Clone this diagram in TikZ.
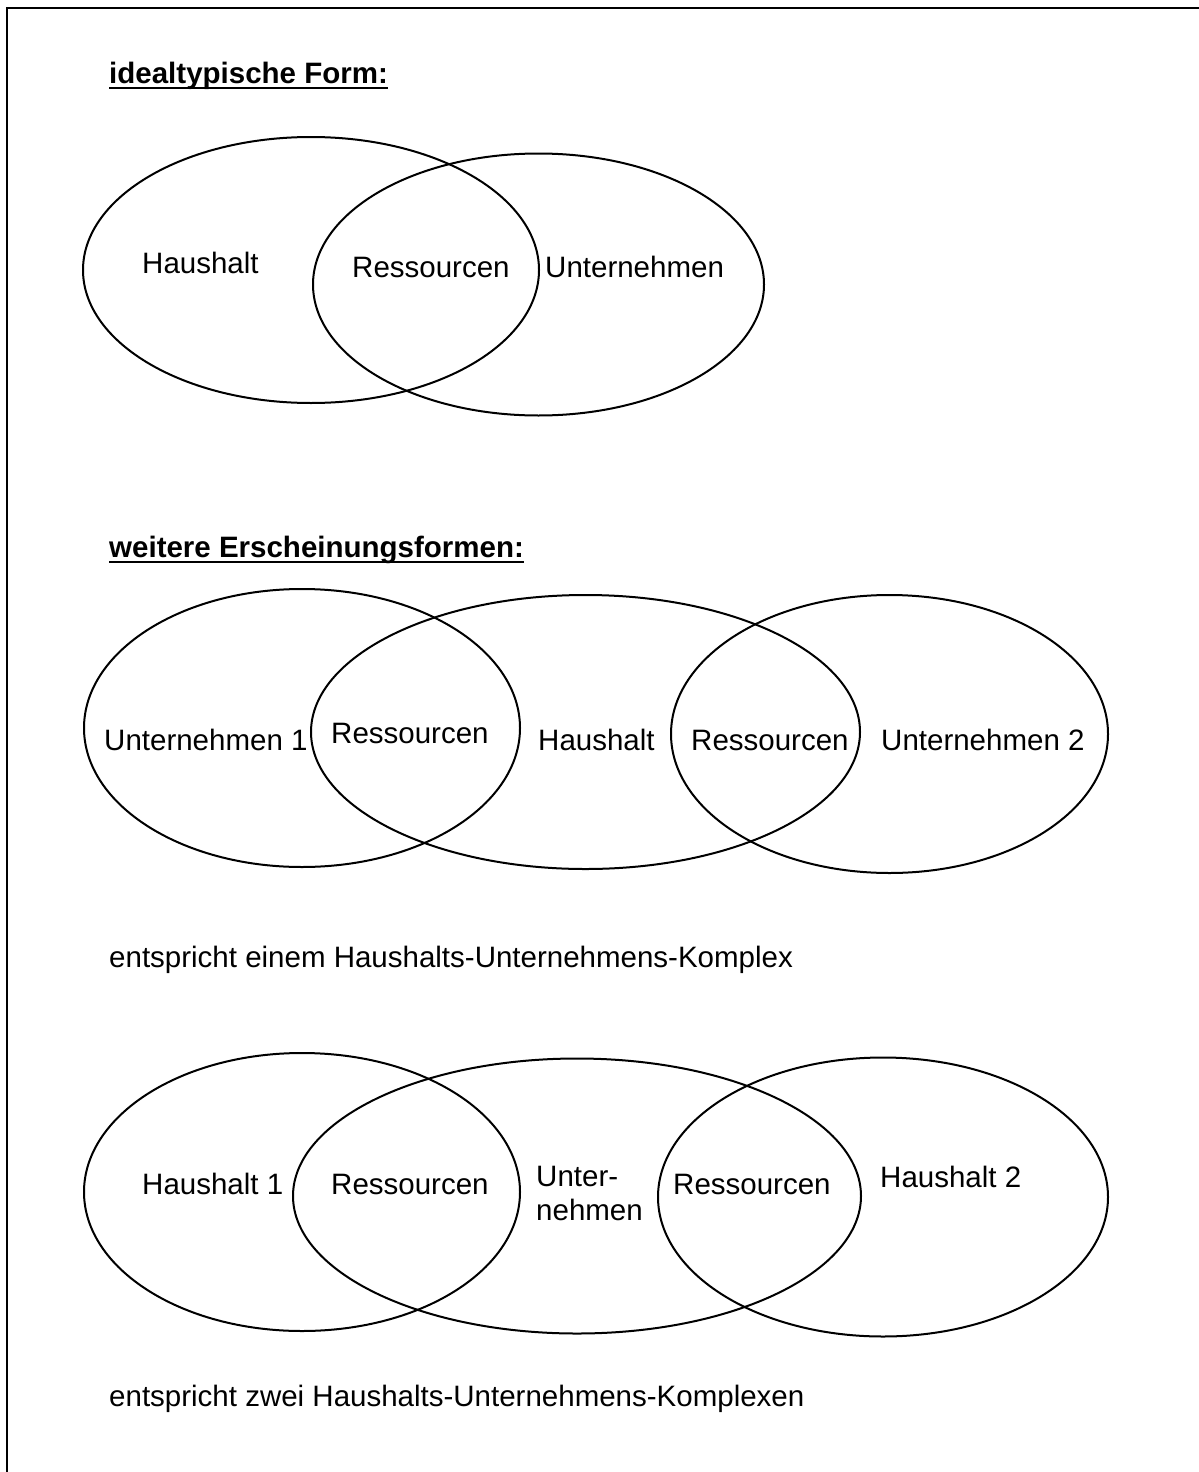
\documentclass[tikz,border=0pt]{standalone}
\usepackage{fontspec}
\setmainfont{Liberation Sans}
\begin{document}
\begin{tikzpicture}[x=1pt,y=-1pt,
  venn/.style={draw=black,line width=2pt},
  lbl/.style={anchor=base west,inner sep=0pt,font=\fontsize{29.5}{34}\selectfont},
  head/.style={anchor=base west,inner sep=0pt,font=\fontsize{29.5}{34}\selectfont\bfseries},
  uline/.style={line width=2.6pt}]
\useasboundingbox (0,0) rectangle (1199,1472);
% frame (only top and left edges visible)
\coordinate (fTR) at (1210,8);
\coordinate (fTL) at (7,8);
\coordinate (fBL) at (7,1490);
\draw[line width=2pt] (fTR) -- (fTL) -- (fBL);

% --- idealtypische Form
\node[head] (h1) at (109,83) {idealtypische Form:};
\draw[uline] ([yshift=-5pt]h1.base west) -- ([yshift=-5pt]h1.base east);
\draw[venn] (311,270) ellipse [x radius=228, y radius=133];
\draw[venn] (538.5,284.5) ellipse [x radius=225.5, y radius=131];
\node[lbl] (t1) at (142,273) {Haushalt};
\node[lbl] (t2) at (352,277) {Ressourcen};
\node[lbl] (t3) at (545,277) {Unternehmen};

% --- weitere Erscheinungsformen
\node[head] (h2) at (109,557) {weitere Erscheinungsformen:};
\draw[uline] ([yshift=-5pt]h2.base west) -- ([yshift=-5pt]h2.base east);
\draw[venn] (302,728) ellipse [x radius=218, y radius=139];
\draw[venn] (585.5,732) ellipse [x radius=274.5, y radius=137];
\draw[venn] (889.5,734) ellipse [x radius=218.5, y radius=139];
\node[lbl] (m1) at (104,750) {Unternehmen 1};
\node[lbl] (m2) at (331,743) {Ressourcen};
\node[lbl] (m3) at (538,750) {Haushalt};
\node[lbl] (m4) at (691,750) {Ressourcen};
\node[lbl] (m5) at (881,750) {Unternehmen 2};
\node[lbl] (c1) at (109,967) {entspricht einem Haushalts-Unternehmens-Komplex};

% --- bottom
\draw[venn] (302,1192) ellipse [x radius=218, y radius=139];
\draw[venn] (577,1196) ellipse [x radius=284, y radius=137.5];
\draw[venn] (883,1197) ellipse [x radius=225, y radius=139.5];
\node[lbl] (b1) at (142,1194) {Haushalt 1};
\node[lbl] (b2) at (331,1194) {Ressourcen};
\node[lbl] (b3) at (536,1186) {Unter-};
\node[lbl] (b4) at (536,1220) {nehmen};
\node[lbl] (b5) at (673,1194) {Ressourcen};
\node[lbl] (b6) at (880,1187) {Haushalt 2};
\node[lbl] (c2) at (109,1406) {entspricht zwei Haushalts-Unternehmens-Komplexen};
\end{tikzpicture}
\end{document}
